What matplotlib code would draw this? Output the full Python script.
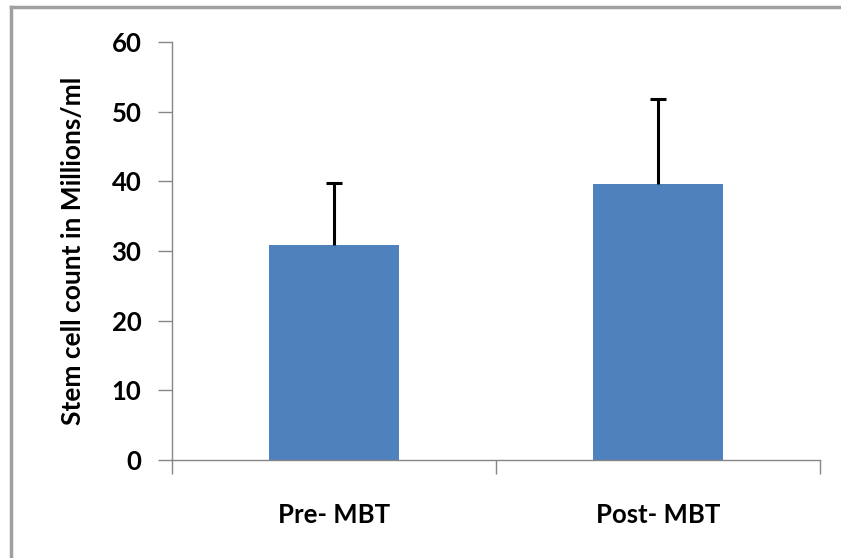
import matplotlib.pyplot as plt
from matplotlib.lines import Line2D

# data
groups = ['Pre- MBT', 'Post- MBT']
means = [30.8, 39.6]
sd_up = [8.9, 12.2]
yticks = [0, 10, 20, 30, 40, 50, 60]

bar_color = '#4F81BD'
axis_grey = '#868686'

plt.rcParams['font.family'] = ['Lato', 'DejaVu Sans']

fig = plt.figure(figsize=(8.41, 5.58), dpi=100)
ax = fig.add_axes([0.2045, 0.1756, 0.7705, 0.7491])

x = list(range(len(groups)))
ax.bar(x, means, width=0.4, color=bar_color, zorder=2)

# upper-only error bars (vertical line + cap on top)
tops = [m + e for m, e in zip(means, sd_up)]
ax.vlines(x, means, tops, color='black', linewidth=2.2, zorder=3)
ax.hlines(tops, [i - 0.025 for i in x], [i + 0.025 for i in x],
          color='black', linewidth=2.2, zorder=3)

ax.set_xlim(-0.5, len(groups) - 0.5)
ax.set_ylim(0, 60)
ax.set_yticks(yticks)
ax.set_yticklabels([str(v) for v in yticks], fontsize=18.5, fontweight='bold')

# category labels between boundary ticks
ax.set_xticks([-0.5, 0.5, 1.5])
ax.set_xticklabels([])
ax.set_xticks(x, minor=True)
ax.set_xticklabels(groups, minor=True, fontsize=18.5, fontweight='bold')
ax.tick_params(axis='x', which='major', direction='out', length=10,
               color=axis_grey, width=1)
ax.tick_params(axis='x', which='minor', length=0, pad=31)
ax.tick_params(axis='y', direction='out', length=10, color=axis_grey,
               width=1, pad=12)

for s in ['top', 'right']:
    ax.spines[s].set_visible(False)
for s in ['left', 'bottom']:
    ax.spines[s].set_color(axis_grey)
    ax.spines[s].set_linewidth(1)

ax.set_ylabel('Stem cell count in Millions/ml', fontsize=19,
              fontweight='bold', labelpad=19)

# chart area frame: only top and left edges fall inside the image
fx = 11 / 841
fy = 1 - 7 / 558
fig.add_artist(Line2D([fx, 1.02], [fy, fy], transform=fig.transFigure,
                      color='#A0A0A0', linewidth=2.5))
fig.add_artist(Line2D([fx, fx], [-0.02, fy], transform=fig.transFigure,
                      color='#A0A0A0', linewidth=2.5))

fig.savefig('out.png', dpi=100)
